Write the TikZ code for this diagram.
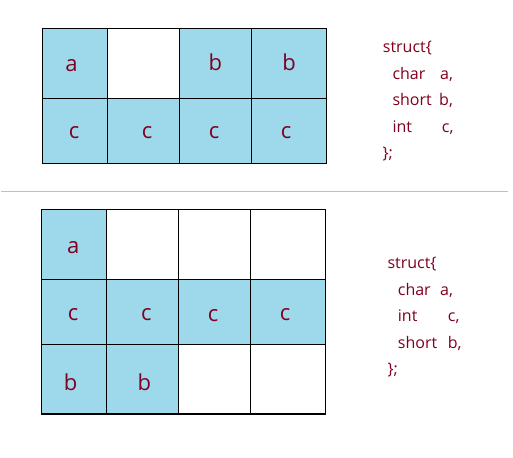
\documentclass[tikz,border=0pt]{standalone}
\usepackage{fontspec}
\setmainfont{Open Sans}
\definecolor{cellblue}{RGB}{157,217,234}
\definecolor{txtred}{RGB}{128,0,32}
\definecolor{sepgray}{RGB}{192,192,192}
\tikzset{
  letter/.style={text=txtred, font=\fontsize{22bp}{25bp}\selectfont, inner sep=0pt},
  code/.style={text=txtred, font=\fontsize{16bp}{20bp}\selectfont, inner sep=0pt, anchor=base west},
  gridline/.style={draw=black, line width=1.2bp},
  bluecell/.style={fill=cellblue}
}
\begin{document}
\begin{tikzpicture}[x=1bp,y=-1bp]
\useasboundingbox (0,0) rectangle (513,458);
\fill[white] (0,0) rectangle (513,458);
% ---------- top grid ----------
\fill[bluecell] (42.3,28.3) rectangle (107.3,98.7);
\fill[bluecell] (179.3,28.3) rectangle (326.3,98.7);
\fill[bluecell] (42.3,98.7) rectangle (326.3,163.3);
\draw[gridline] (42.3,28.3) rectangle (326.3,163.3);
\draw[gridline] (42.3,98.7) -- (326.3,98.7);
\draw[gridline] (107.3,28.3) -- (107.3,163.3);
\draw[gridline] (179.3,28.3) -- (179.3,163.3);
\draw[gridline] (251.3,28.3) -- (251.3,163.3);
\node[letter] (ta) at (71.5,65.5) {a};
\node[letter] (tb1) at (215.3,62.7) {b};
\node[letter] (tb2) at (289,61.8) {b};
\node[letter] (tc1) at (74,133) {c};
\node[letter] (tc2) at (147,133) {c};
\node[letter] (tc3) at (214,133) {c};
\node[letter] (tc4) at (286,132.5) {c};
% top code
\node[code] (ts) at (382.7,53) {struct\{};
\node[code] (tch) at (392.3,79.5) {char};
\node[code] (tca) at (440,79.5) {a,};
\node[code] (tsh) at (392.3,106) {short};
\node[code] (tsb) at (439,106) {b,};
\node[code] (tin) at (392.3,132.5) {int};
\node[code] (tic) at (441.7,132.5) {c,};
\node[code] (tend) at (382.3,159) {\};};
% separator
\draw[sepgray, line width=1bp] (1,191.3) -- (508,191.3);
% ---------- bottom grid ----------
\fill[bluecell] (41.3,209.3) rectangle (106.3,279.3);
\fill[bluecell] (41.3,279.3) rectangle (325.3,344.3);
\fill[bluecell] (41.3,344.3) rectangle (178.3,414);
\draw[gridline] (41.3,209.3) rectangle (325.3,414);
\draw[gridline] (41.3,279.3) -- (325.3,279.3);
\draw[gridline] (41.3,344.3) -- (325.3,344.3);
\draw[gridline] (106.3,209.3) -- (106.3,414);
\draw[gridline] (178.3,209.3) -- (178.3,414);
\draw[gridline] (250.3,209.3) -- (250.3,414);
\node[letter] (ba) at (73.3,248) {a};
\node[letter] (bc1) at (73,315) {c};
\node[letter] (bc2) at (146.3,315) {c};
\node[letter] (bc3) at (213,315.5) {c};
\node[letter] (bc4) at (285,315) {c};
\node[letter] (bb1) at (70.7,382.7) {b};
\node[letter] (bb2) at (144.3,382) {b};
% bottom code
\node[code] (bs) at (387.3,268.5) {struct\{};
\node[code] (bch) at (397.7,295) {char};
\node[code] (bca) at (440,295) {a,};
\node[code] (bin) at (397.7,321.5) {int};
\node[code] (bic) at (447.7,321.5) {c,};
\node[code] (bsh) at (397.7,348) {short};
\node[code] (bsb) at (447.7,348) {b,};
\node[code] (bend) at (387.3,374.5) {\};};
\end{tikzpicture}
\end{document}
